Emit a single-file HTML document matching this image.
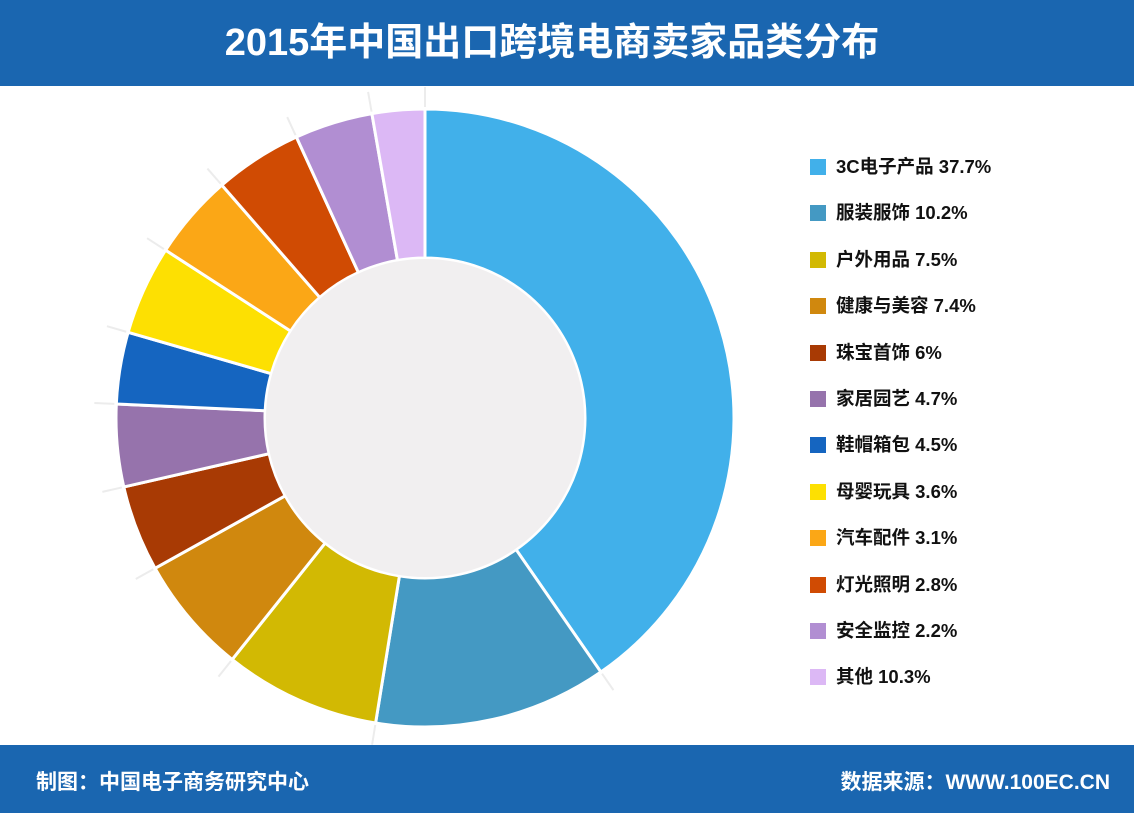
<!DOCTYPE html>
<html><head><meta charset="utf-8"><style>
body{margin:0;width:1134px;height:813px;overflow:hidden;background:#fff;font-family:"Liberation Sans","Noto Sans CJK SC",sans-serif;position:relative}
.hdr{position:absolute;left:0;top:0;width:1134px;height:86px;background:#1a66b0;color:#fff;font-weight:bold;font-size:38px;text-align:center;line-height:86px;padding-right:30px;box-sizing:border-box}
.ftr{position:absolute;left:0;top:745px;width:1134px;height:68px;background:#1a66b0;color:#fff;font-weight:bold;font-size:21px}
.ftr span{position:absolute;top:21px}
.leg{position:absolute;left:810px;font-size:18.5px;color:#111;font-weight:bold;height:22px;line-height:22px;white-space:nowrap}
.leg i{display:inline-block;width:16px;height:16px;vertical-align:-2px;margin-right:10px}
</style></head><body>
<div class="hdr">2015年中国出口跨境电商卖家品类分布</div>
<svg id="c" width="1134" height="813" style="position:absolute;left:0;top:0"></svg>
<div id="legend"></div>
<div class="ftr"><span style="left:36px">制图：中国电子商务研究中心</span><span style="right:24px">数据来源：WWW.100EC.CN</span></div>
<script>
const categories=["3C电子产品","服装服饰","户外用品","健康与美容","珠宝首饰","家居园艺","鞋帽箱包","母婴玩具","汽车配件","灯光照明","安全监控","其他"];
const labelValues=["37.7%","10.2%","7.5%","7.4%","6%","4.7%","4.5%","3.6%","3.1%","2.8%","2.2%","10.3%"];
const drawnValues=[145.3,43.9,29.4,22.3,16.2,15.5,13.5,16.8,16.0,16.5,14.7,9.9];
const colors=["#41b0ea","#4499c3","#d2b903","#d0880e","#a83a04","#9673ac","#1565c0","#fde002","#fba716","#d04b03","#b18ed2","#dcb8f5"];
const cx=425,cy=418,R=309,r=160;
const svg=document.getElementById('c');const NS="http://www.w3.org/2000/svg";
const total=drawnValues.reduce((a,b)=>a+b,0);
function pt(a,rad){const t=a*Math.PI/180;return [cx+rad*Math.sin(t),cy-rad*Math.cos(t)];}
let a0=0;
drawnValues.forEach((v,i)=>{
 const a1=a0+v/total*360;
 const [x0,y0]=pt(a0,R),[x1,y1]=pt(a1,R),[x2,y2]=pt(a1,r),[x3,y3]=pt(a0,r);
 const lg=(a1-a0)>180?1:0;
 const [lx0,ly0]=pt(a0,R+2),[lx1,ly1]=pt(a0,R+22);
 const ln=document.createElementNS(NS,'line');
 
 
 ln.setAttribute('x1',lx0);ln.setAttribute('y1',ly0);ln.setAttribute('x2',lx1);ln.setAttribute('y2',ly1);
 ln.setAttribute('stroke','#ececec');ln.setAttribute('stroke-width','2');svg.appendChild(ln);
 const p=document.createElementNS(NS,'path');
 
 
 p.setAttribute('d',`M${x0},${y0}A${R},${R} 0 ${lg} 1 ${x1},${y1}L${x2},${y2}A${r},${r} 0 ${lg} 0 ${x3},${y3}Z`);
 p.setAttribute('fill',colors[i]);p.setAttribute('stroke','#fff');p.setAttribute('stroke-width','3');
 svg.appendChild(p);a0=a1;
});
const c=document.createElementNS(NS,'circle');


c.setAttribute('cx',cx);c.setAttribute('cy',cy);c.setAttribute('r',r-1);c.setAttribute('fill','#f1eff0');svg.appendChild(c);
const lg=document.getElementById('legend');
categories.forEach((n,i)=>{
 const d=document.createElement('div');
 
 
 d.className='leg';d.style.top=(156+i*46.4)+'px';
 d.innerHTML=`<i style="background:${colors[i]}"></i>${n} ${labelValues[i]}`;
 lg.appendChild(d);
});
</script>
</body></html>
